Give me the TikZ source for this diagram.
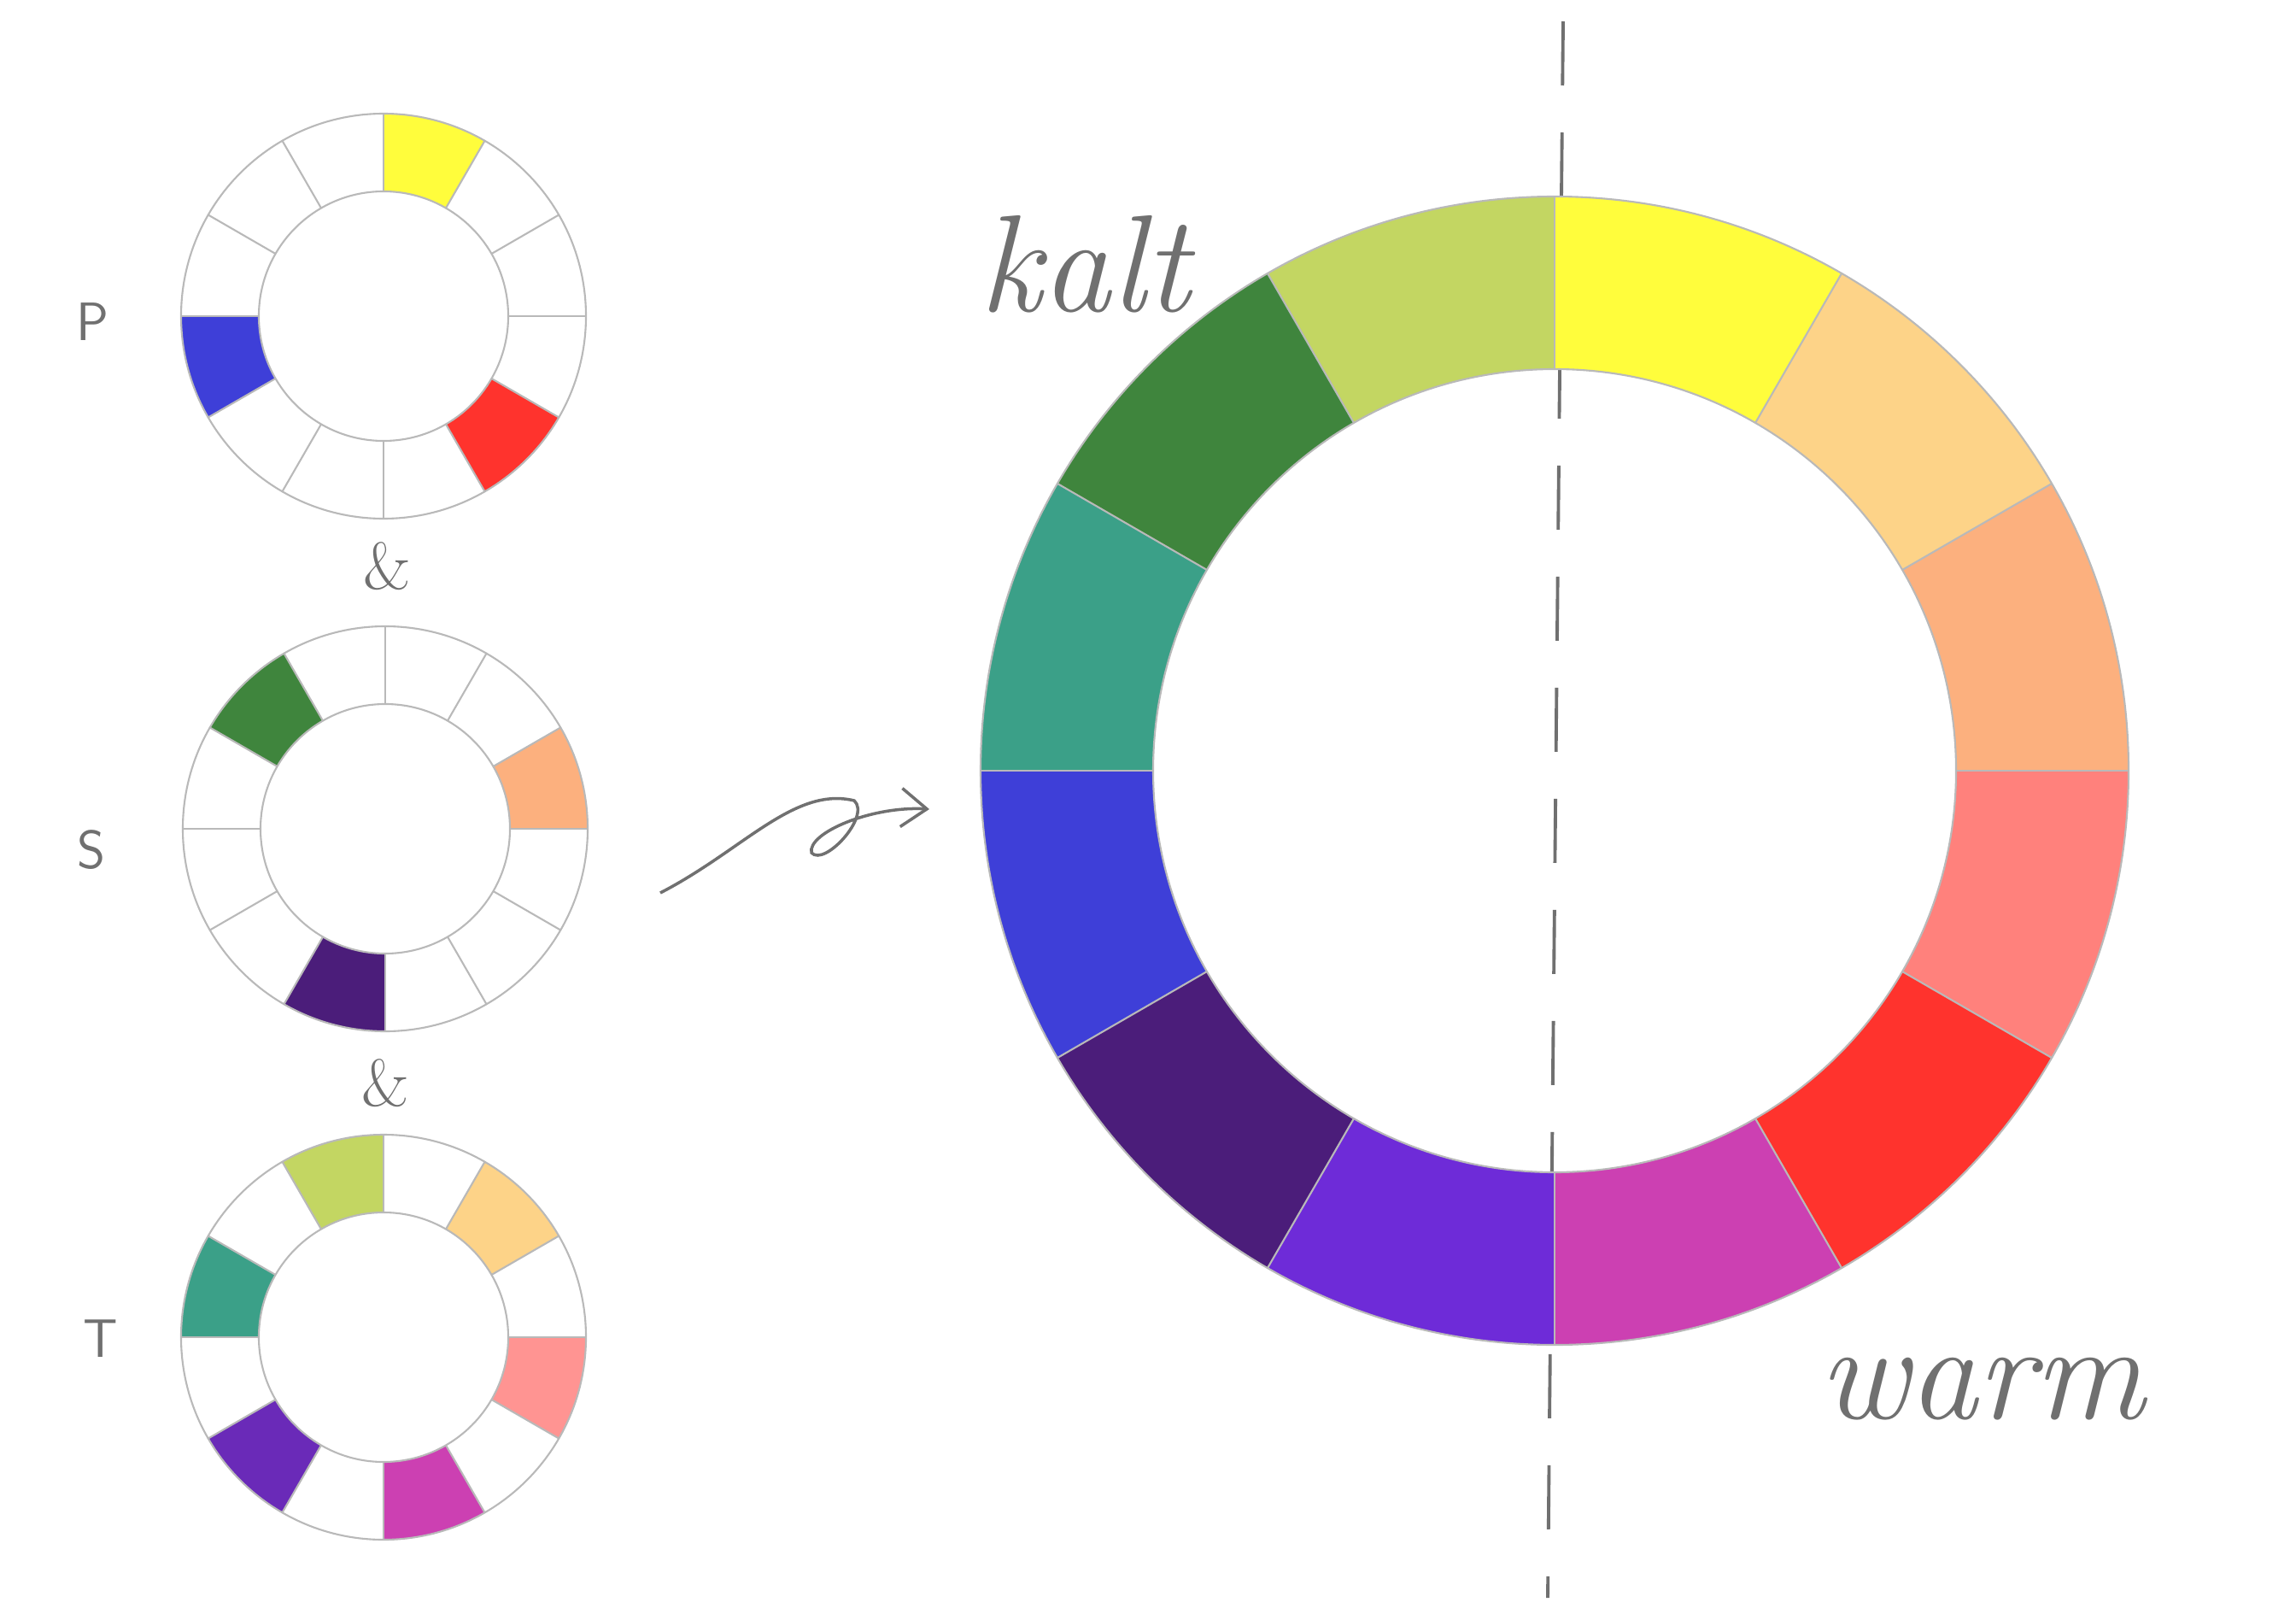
\documentclass[tikz,border=0pt]{standalone}
\usepackage{amsmath, amsfonts, amssymb}
\usetikzlibrary{arrows.meta}
\definecolor{cYellow}{HTML}{FFFD3C}
\definecolor{cLightOrange}{HTML}{FDD388}
\definecolor{cPeach}{HTML}{FCB07E}
\definecolor{cSalmon}{HTML}{FF817C}
\definecolor{cSalmonLight}{HTML}{FF9492}
\definecolor{cRed}{HTML}{FF332D}
\definecolor{cMagenta}{HTML}{CC40B2}
\definecolor{cViolet}{HTML}{6E2BD8}
\definecolor{cVioletT}{HTML}{6A2AB8}
\definecolor{cDarkPurple}{HTML}{4B1D7A}
\definecolor{cBlue}{HTML}{3E3FD8}
\definecolor{cTeal}{HTML}{3BA088}
\definecolor{cDarkGreen}{HTML}{3F853D}
\definecolor{cYellowGreen}{HTML}{C3D662}
\definecolor{pencil}{HTML}{707070}

\begin{document}
\begin{tikzpicture}[
  ringline/.style={draw=gray!55, line width=0.6pt},
  letter/.style={text=pencil, font=\fontsize{18}{18}\selectfont\sffamily},
  script/.style={text=pencil, font=\itshape}
]
\useasboundingbox (0,0) rectangle (26.88,18.95);
\coordinate (big) at (18.2,9.93);
\coordinate (wheelP) at (4.49,15.25);
\coordinate (wheelS) at (4.51,9.25);
\coordinate (wheelT) at (4.49,3.30);

% dividing line kalt / warm
\coordinate (cutTop) at (18.30,18.70);
\coordinate (cutBot) at (18.12,0.25);
\draw[pencil, line width=1.1pt, dash pattern=on 0.75cm off 0.55cm] (cutTop) -- (cutBot);

% big wheel
\begin{scope}[shift={(big)}]
\foreach \col [count=\i from 0] in {cYellow,cLightOrange,cPeach,cSalmon,cRed,cMagenta,cViolet,cDarkPurple,cBlue,cTeal,cDarkGreen,cYellowGreen} {
  \pgfmathsetmacro\a{90-30*\i}
  \fill[\col] (\a:6.72) arc[start angle=\a, delta angle=-30, radius=6.72] -- (\a-30:4.70) arc[start angle=\a-30, delta angle=30, radius=4.70] -- cycle;
}
\draw[ringline] (0,0) circle (6.72);
\draw[ringline] (0,0) circle (4.70);
\foreach \a in {0,30,...,330}
  \draw[ringline] (\a:4.70) -- (\a:6.72);
\end{scope}

% small wheels
\foreach \w/\i/\col in {P/0/cYellow, P/4/cRed, P/8/cBlue, S/2/cPeach, S/6/cDarkPurple, S/10/cDarkGreen, T/1/cLightOrange, T/3/cSalmonLight, T/5/cMagenta, T/7/cVioletT, T/9/cTeal, T/11/cYellowGreen} {
  \begin{scope}[shift={(wheel\w)}]
  \pgfmathsetmacro\a{90-30*\i}
  \fill[\col] (\a:2.37) arc[start angle=\a, delta angle=-30, radius=2.37] -- (\a-30:1.46) arc[start angle=\a-30, delta angle=30, radius=1.46] -- cycle;
  \end{scope}
}
\foreach \w in {P,S,T} {
  \begin{scope}[shift={(wheel\w)}]
  \draw[ringline] (0,0) circle (2.37);
  \draw[ringline] (0,0) circle (1.46);
  \foreach \a in {0,30,...,330}
    \draw[ringline] (\a:1.46) -- (\a:2.37);
  \end{scope}
}

% labels
\node[letter] (labP) at (1.08,15.18) {P};
\node[letter] (labS) at (1.07,9.00) {S};
\node[letter] (labT) at (1.18,3.28) {T};
\node[text=pencil, font=\fontsize{22}{22}\selectfont] (amp1) at (4.53,12.32) {\&};
\node[text=pencil, font=\fontsize{22}{22}\selectfont] (amp2) at (4.51,6.27) {\&};
\node[script, font=\fontsize{46}{46}\selectfont\itshape, anchor=base] (kalt) at (12.70,15.3) {kalt};
\node[script, font=\fontsize{46}{46}\selectfont\itshape, anchor=base] (warm) at (23.2,2.35) {warm};

% curly arrow
\coordinate (arrS) at (7.73,8.50);
\coordinate (arrE) at (10.88,9.48);
\draw[pencil, line width=1pt, -{Straight Barb[length=3mm, width=4.5mm]}] (arrS) .. controls (8.7,9.0) and (9.3,9.75) .. (10.0,9.58)
  .. controls (10.2,9.4) and (9.65,8.80) .. (9.50,8.97)
  .. controls (9.45,9.2) and (10.2,9.52) .. (arrE);
\end{tikzpicture}
\end{document}
